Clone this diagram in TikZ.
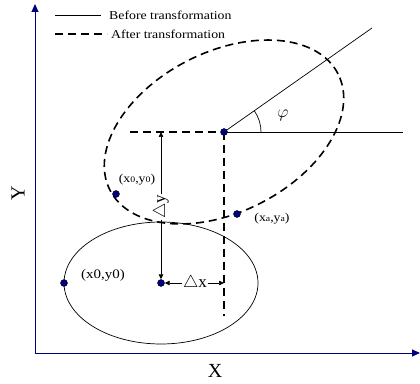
\documentclass[tikz,border=0pt]{standalone}
\usepackage{fontspec}
\setmainfont{Liberation Serif}
\usetikzlibrary{arrows.meta}
\definecolor{navy}{RGB}{0,0,128}
\newcommand\smch[1]{{\fontsize{8.5}{8.5}\selectfont #1}}
\begin{document}
\begin{tikzpicture}[x=1pt,y=1pt,
  thinline/.style={line width=0.7pt},
  dashline/.style={line width=1.6pt, dash pattern=on 8pt off 5pt},
  axis/.style={navy, line width=1pt, -{Triangle[length=8pt,width=7pt]}},
  dot/.style={circle, fill=navy, draw=black, line width=0.4pt, inner sep=0pt, minimum size=7pt},
  lbl/.style={font=\fontsize{12}{14}\selectfont, inner sep=0pt, xscale=1.15},
  big/.style={font=\fontsize{17}{19}\selectfont, inner sep=0.5pt},
  arr/.style={line width=0.7pt, -{Triangle[length=5pt,width=4.5pt]}}]
\useasboundingbox (0,0) rectangle (420,383);
% axes
\coordinate (O) at (35,30);
\coordinate (Ytop) at (35,379);
\coordinate (Xend) at (420,30);
\draw[axis] (O) -- (Ytop);
\draw[axis] (O) -- (Xend);
\node[font=\fontsize{20}{22}\selectfont, inner sep=0pt] (xl) at (215,12) {X};
\node[font=\fontsize{20}{22}\selectfont, inner sep=0pt, rotate=90] (yl) at (18,190) {Y};
% legend
\coordinate (l1a) at (55,368); \coordinate (l1b) at (101,368);
\coordinate (l2a) at (55,349); \coordinate (l2b) at (107,349);
\draw[thinline] (l1a) -- (l1b);
\draw[dashline] (l2a) -- (l2b);
\node[lbl, anchor=west] (t1) at (109,368) {Before transformation};
\node[lbl, anchor=west] (t2) at (111,349) {After transformation};
% centres
\coordinate (C2) at (224,251);
\coordinate (C1) at (161,100);
% ellipses
\draw[dashline, rotate around={27:(C2)}] (C2) ellipse [x radius=128pt, y radius=80pt];
\draw[thinline] (C1) ellipse [x radius=97pt, y radius=61pt];
% rotated frame
\coordinate (Rend) at (372,355);
\coordinate (Hend) at (403,251);
\coordinate (Hstart) at (130,251);
\coordinate (Vend) at (224,67);
\draw[thinline] (C2) -- (Rend);
\draw[thinline] (C2) -- (Hend);
\draw[dashline] (Hstart) -- (C2);
\draw[dashline] (C2) -- (Vend);
\draw[thinline] (C2) ++(37,0) arc[start angle=0, end angle=35, radius=37pt];
\node[big, font=\fontsize{19}{21}\selectfont] (phi) at (283,268) {$\varphi$};
% dots
\node[dot] (c2) at (C2) {};
\node[dot] (c1) at (C1) {};
\node[dot] (p0) at (116,189) {};
\node[dot] (pa) at (237,169) {};
\node[dot] (q0) at (64,100) {};
% labels
\node[lbl] (lp0) at (137,203) {(x\smch{0},y\smch{0})};
\node[lbl] (lpa) at (272,164) {(x\smch{a},y\smch{a})};
\node[lbl, font=\fontsize{13}{15}\selectfont] (lq0) at (103,108) {(x0,y0)};
% delta y
\node[big, rotate=90] (dy) at (161,176) {$\triangle$y};
\draw[arr] (dy.east) -- (c1 |- C2);
\draw[arr] (dy.west) -- (c1.north);
% delta x
\node[big] (dx) at (195,100) {$\triangle$x};
\draw[arr] (dx.west) -- (c1.east);
\draw[arr] (dx.east) -- (c1 -| C2);
\end{tikzpicture}
\end{document}
